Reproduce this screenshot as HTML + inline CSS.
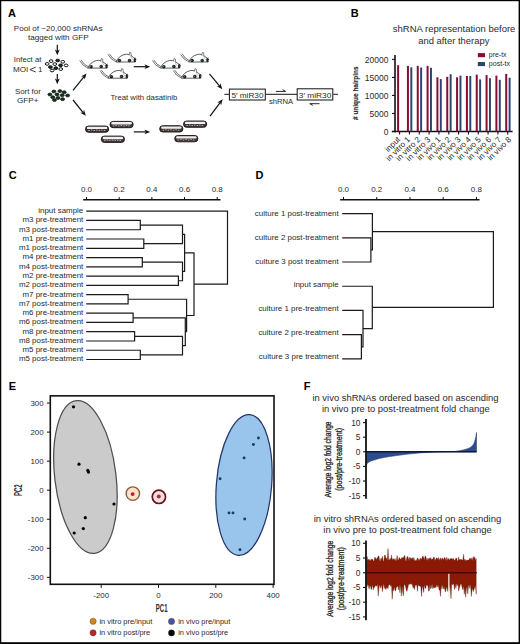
<!DOCTYPE html>
<html><head><meta charset="utf-8"><style>
html,body{margin:0;padding:0;background:#fff;}
svg{display:block;}
text{font-family:"Liberation Sans", sans-serif;}
</style></head><body>
<svg width="520" height="644" viewBox="0 0 520 644">

<rect width="520" height="644" fill="#fff"/>
<rect x="0" y="0" width="520" height="1.2" fill="#000"/>
<rect x="0" y="0" width="1.25" height="644" fill="#000"/>
<rect x="518.6" y="0" width="1.4" height="644" fill="#000"/>
<rect x="0" y="642.2" width="520" height="1.8" fill="#000"/>
<text x="8" y="16.7" font-size="11" text-anchor="start" font-weight="bold" fill="#000" >A</text>
<text x="58.2" y="30.7" font-size="8.1" text-anchor="middle" font-weight="normal" fill="#2a2a2a" textLength="88.7" lengthAdjust="spacingAndGlyphs" >Pool of ~20,000 shRNAs</text>
<text x="58.3" y="39.9" font-size="8.1" text-anchor="middle" font-weight="normal" fill="#2a2a2a" textLength="60.7" lengthAdjust="spacingAndGlyphs" >tagged with GFP</text>
<line x1="57.3" y1="44.8" x2="57.3" y2="51.024" stroke="#111" stroke-width="1.2"/>
<polygon points="57.30,55.20 54.90,49.40 57.30,51.02 59.70,49.40" fill="#111"/>
<text x="27.6" y="62.1" font-size="8" text-anchor="middle" font-weight="normal" fill="#2a2a2a" textLength="27.5" lengthAdjust="spacingAndGlyphs" >Infect at</text>
<text x="13.0" y="71.8" font-size="8" text-anchor="start" font-weight="normal" fill="#2a2a2a" textLength="15.2" lengthAdjust="spacingAndGlyphs" >MOI</text>
<polyline points="35.7,67.2 29.9,69.6 35.7,72.0" fill="none" stroke="#2a2a2a" stroke-width="0.9"/>
<text x="37.9" y="71.8" font-size="8" text-anchor="start" font-weight="normal" fill="#2a2a2a" >1</text>
<line x1="57.3" y1="74.0" x2="57.3" y2="80.024" stroke="#111" stroke-width="1.2"/>
<polygon points="57.30,84.20 54.90,78.40 57.30,80.02 59.70,78.40" fill="#111"/>
<text x="27.9" y="93.5" font-size="8" text-anchor="middle" font-weight="normal" fill="#2a2a2a" textLength="25.8" lengthAdjust="spacingAndGlyphs" >Sort for</text>
<text x="27.75" y="103" font-size="8" text-anchor="middle" font-weight="normal" fill="#2a2a2a" textLength="21.5" lengthAdjust="spacingAndGlyphs" >GFP+</text>
<ellipse cx="51.1" cy="61.1" rx="1.9" ry="1.35" fill="#fff" stroke="#111" stroke-width="1.0"/>
<ellipse cx="57.7" cy="60.5" rx="1.9" ry="1.35" fill="#1c2e22" stroke="#111" stroke-width="1.0"/>
<ellipse cx="62.8" cy="61.8" rx="1.9" ry="1.35" fill="#fff" stroke="#111" stroke-width="1.0"/>
<ellipse cx="47.1" cy="63.9" rx="1.9" ry="1.35" fill="#fff" stroke="#111" stroke-width="1.0"/>
<ellipse cx="54.8" cy="64.1" rx="1.9" ry="1.35" fill="#fff" stroke="#111" stroke-width="1.0"/>
<ellipse cx="60.6" cy="65.3" rx="1.9" ry="1.35" fill="#1c2e22" stroke="#111" stroke-width="1.0"/>
<ellipse cx="66.1" cy="65.4" rx="1.9" ry="1.35" fill="#fff" stroke="#111" stroke-width="1.0"/>
<ellipse cx="50.4" cy="67.1" rx="1.9" ry="1.35" fill="#1c2e22" stroke="#111" stroke-width="1.0"/>
<ellipse cx="55.8" cy="68.2" rx="1.9" ry="1.35" fill="#1c2e22" stroke="#111" stroke-width="1.0"/>
<ellipse cx="60.8" cy="69.1" rx="1.9" ry="1.35" fill="#fff" stroke="#111" stroke-width="1.0"/>
<ellipse cx="52.1" cy="70.5" rx="1.9" ry="1.35" fill="#fff" stroke="#111" stroke-width="1.0"/>
<ellipse cx="53.9" cy="91.5" rx="2.0" ry="1.45" fill="#1c3324" stroke="#0a140c" stroke-width="0.7"/>
<ellipse cx="59.9" cy="91.1" rx="2.0" ry="1.45" fill="#1c3324" stroke="#0a140c" stroke-width="0.7"/>
<ellipse cx="64.2" cy="92.3" rx="2.0" ry="1.45" fill="#1c3324" stroke="#0a140c" stroke-width="0.7"/>
<ellipse cx="49.9" cy="94.5" rx="2.0" ry="1.45" fill="#1c3324" stroke="#0a140c" stroke-width="0.7"/>
<ellipse cx="57" cy="94.5" rx="2.0" ry="1.45" fill="#1c3324" stroke="#0a140c" stroke-width="0.7"/>
<ellipse cx="62.2" cy="95.3" rx="2.0" ry="1.45" fill="#1c3324" stroke="#0a140c" stroke-width="0.7"/>
<ellipse cx="67.6" cy="95.5" rx="2.0" ry="1.45" fill="#1c3324" stroke="#0a140c" stroke-width="0.7"/>
<ellipse cx="52.8" cy="97.3" rx="2.0" ry="1.45" fill="#1c3324" stroke="#0a140c" stroke-width="0.7"/>
<ellipse cx="58" cy="98" rx="2.0" ry="1.45" fill="#1c3324" stroke="#0a140c" stroke-width="0.7"/>
<ellipse cx="62.6" cy="99.2" rx="2.0" ry="1.45" fill="#1c3324" stroke="#0a140c" stroke-width="0.7"/>
<ellipse cx="54.5" cy="100.1" rx="2.0" ry="1.45" fill="#1c3324" stroke="#0a140c" stroke-width="0.7"/>
<line x1="73" y1="90.4" x2="83.88419073167218" y2="76.85522931169683" stroke="#111" stroke-width="1.2"/>
<polygon points="86.50,73.60 84.74,79.62 83.88,76.86 81.00,76.62" fill="#111"/>
<line x1="73" y1="100.0" x2="83.17128680060996" y2="112.55518214450292" stroke="#111" stroke-width="1.2"/>
<polygon points="85.80,115.80 80.28,112.80 83.17,112.56 84.01,109.78" fill="#111"/>
<g transform="translate(79.7,60.5)"><path d="M0,0 Q2.4,5.0 8.2,7.6 M1.4,-0.6 Q3.8,4.2 9.2,6.6" fill="none" stroke="#444" stroke-width="0.75"/>
 <path d="M8.2,7.6 C9.6,3.4 13,0.8 17,0.0 C19.4,-0.4 21.2,0.1 22.5,1.0 C24.5,2.3 26.3,3.5 27.6,4.6 L27.4,7.6 Z" fill="#fff" stroke="#333" stroke-width="0.8"/>
 <path d="M21.0,0.9 L21.7,-2.0 L23.0,-1.5 L23.2,1.6" fill="#fff" stroke="#444" stroke-width="0.65"/>
 <path d="M22.6,2.0 L24.8,5.4" stroke="#888" stroke-width="0.5"/>
 <circle cx="11.4" cy="6.2" r="1.75" fill="#14281a"/>
 <circle cx="21.5" cy="6.0" r="1.75" fill="#14281a"/>
 <circle cx="11.0" cy="5.8" r="0.45" fill="#bcc"/>
 <circle cx="21.1" cy="5.6" r="0.45" fill="#bcc"/>
 <path d="M26.0,4.2 L28.0,3.6 M26.2,5.0 L28.4,5.2 M26.0,5.8 L27.8,7.2" stroke="#111" stroke-width="0.7"/>
 <path d="M25.6,4.4 L27.2,4.3 L27.4,7.6 L25.8,7.6 Z" fill="#222"/></g>
<g transform="translate(108,54.4)"><path d="M0,0 Q2.4,5.0 8.2,7.6 M1.4,-0.6 Q3.8,4.2 9.2,6.6" fill="none" stroke="#444" stroke-width="0.75"/>
 <path d="M8.2,7.6 C9.6,3.4 13,0.8 17,0.0 C19.4,-0.4 21.2,0.1 22.5,1.0 C24.5,2.3 26.3,3.5 27.6,4.6 L27.4,7.6 Z" fill="#fff" stroke="#333" stroke-width="0.8"/>
 <path d="M21.0,0.9 L21.7,-2.0 L23.0,-1.5 L23.2,1.6" fill="#fff" stroke="#444" stroke-width="0.65"/>
 <path d="M22.6,2.0 L24.8,5.4" stroke="#888" stroke-width="0.5"/>
 <circle cx="11.4" cy="6.2" r="1.75" fill="#14281a"/>
 <circle cx="21.5" cy="6.0" r="1.75" fill="#14281a"/>
 <circle cx="11.0" cy="5.8" r="0.45" fill="#bcc"/>
 <circle cx="21.1" cy="5.6" r="0.45" fill="#bcc"/>
 <path d="M26.0,4.2 L28.0,3.6 M26.2,5.0 L28.4,5.2 M26.0,5.8 L27.8,7.2" stroke="#111" stroke-width="0.7"/>
 <path d="M25.6,4.4 L27.2,4.3 L27.4,7.6 L25.8,7.6 Z" fill="#222"/></g>
<g transform="translate(100,70.6)"><path d="M0,0 Q2.4,5.0 8.2,7.6 M1.4,-0.6 Q3.8,4.2 9.2,6.6" fill="none" stroke="#444" stroke-width="0.75"/>
 <path d="M8.2,7.6 C9.6,3.4 13,0.8 17,0.0 C19.4,-0.4 21.2,0.1 22.5,1.0 C24.5,2.3 26.3,3.5 27.6,4.6 L27.4,7.6 Z" fill="#fff" stroke="#333" stroke-width="0.8"/>
 <path d="M21.0,0.9 L21.7,-2.0 L23.0,-1.5 L23.2,1.6" fill="#fff" stroke="#444" stroke-width="0.65"/>
 <path d="M22.6,2.0 L24.8,5.4" stroke="#888" stroke-width="0.5"/>
 <circle cx="11.4" cy="6.2" r="1.75" fill="#14281a"/>
 <circle cx="21.5" cy="6.0" r="1.75" fill="#14281a"/>
 <circle cx="11.0" cy="5.8" r="0.45" fill="#bcc"/>
 <circle cx="21.1" cy="5.6" r="0.45" fill="#bcc"/>
 <path d="M26.0,4.2 L28.0,3.6 M26.2,5.0 L28.4,5.2 M26.0,5.8 L27.8,7.2" stroke="#111" stroke-width="0.7"/>
 <path d="M25.6,4.4 L27.2,4.3 L27.4,7.6 L25.8,7.6 Z" fill="#222"/></g>
<g transform="translate(152.4,60.5)"><path d="M0,0 Q2.4,5.0 8.2,7.6 M1.4,-0.6 Q3.8,4.2 9.2,6.6" fill="none" stroke="#444" stroke-width="0.75"/>
 <path d="M8.2,7.6 C9.6,3.4 13,0.8 17,0.0 C19.4,-0.4 21.2,0.1 22.5,1.0 C24.5,2.3 26.3,3.5 27.6,4.6 L27.4,7.6 Z" fill="#fff" stroke="#333" stroke-width="0.8"/>
 <path d="M21.0,0.9 L21.7,-2.0 L23.0,-1.5 L23.2,1.6" fill="#fff" stroke="#444" stroke-width="0.65"/>
 <path d="M22.6,2.0 L24.8,5.4" stroke="#888" stroke-width="0.5"/>
 <circle cx="11.4" cy="6.2" r="1.75" fill="#14281a"/>
 <circle cx="21.5" cy="6.0" r="1.75" fill="#14281a"/>
 <circle cx="11.0" cy="5.8" r="0.45" fill="#bcc"/>
 <circle cx="21.1" cy="5.6" r="0.45" fill="#bcc"/>
 <path d="M26.0,4.2 L28.0,3.6 M26.2,5.0 L28.4,5.2 M26.0,5.8 L27.8,7.2" stroke="#111" stroke-width="0.7"/>
 <path d="M25.6,4.4 L27.2,4.3 L27.4,7.6 L25.8,7.6 Z" fill="#222"/></g>
<g transform="translate(180.7,54.4)"><path d="M0,0 Q2.4,5.0 8.2,7.6 M1.4,-0.6 Q3.8,4.2 9.2,6.6" fill="none" stroke="#444" stroke-width="0.75"/>
 <path d="M8.2,7.6 C9.6,3.4 13,0.8 17,0.0 C19.4,-0.4 21.2,0.1 22.5,1.0 C24.5,2.3 26.3,3.5 27.6,4.6 L27.4,7.6 Z" fill="#fff" stroke="#333" stroke-width="0.8"/>
 <path d="M21.0,0.9 L21.7,-2.0 L23.0,-1.5 L23.2,1.6" fill="#fff" stroke="#444" stroke-width="0.65"/>
 <path d="M22.6,2.0 L24.8,5.4" stroke="#888" stroke-width="0.5"/>
 <circle cx="11.4" cy="6.2" r="1.75" fill="#14281a"/>
 <circle cx="21.5" cy="6.0" r="1.75" fill="#14281a"/>
 <circle cx="11.0" cy="5.8" r="0.45" fill="#bcc"/>
 <circle cx="21.1" cy="5.6" r="0.45" fill="#bcc"/>
 <path d="M26.0,4.2 L28.0,3.6 M26.2,5.0 L28.4,5.2 M26.0,5.8 L27.8,7.2" stroke="#111" stroke-width="0.7"/>
 <path d="M25.6,4.4 L27.2,4.3 L27.4,7.6 L25.8,7.6 Z" fill="#222"/></g>
<g transform="translate(173.3,70.6)"><path d="M0,0 Q2.4,5.0 8.2,7.6 M1.4,-0.6 Q3.8,4.2 9.2,6.6" fill="none" stroke="#444" stroke-width="0.75"/>
 <path d="M8.2,7.6 C9.6,3.4 13,0.8 17,0.0 C19.4,-0.4 21.2,0.1 22.5,1.0 C24.5,2.3 26.3,3.5 27.6,4.6 L27.4,7.6 Z" fill="#fff" stroke="#333" stroke-width="0.8"/>
 <path d="M21.0,0.9 L21.7,-2.0 L23.0,-1.5 L23.2,1.6" fill="#fff" stroke="#444" stroke-width="0.65"/>
 <path d="M22.6,2.0 L24.8,5.4" stroke="#888" stroke-width="0.5"/>
 <circle cx="11.4" cy="6.2" r="1.75" fill="#14281a"/>
 <circle cx="21.5" cy="6.0" r="1.75" fill="#14281a"/>
 <circle cx="11.0" cy="5.8" r="0.45" fill="#bcc"/>
 <circle cx="21.1" cy="5.6" r="0.45" fill="#bcc"/>
 <path d="M26.0,4.2 L28.0,3.6 M26.2,5.0 L28.4,5.2 M26.0,5.8 L27.8,7.2" stroke="#111" stroke-width="0.7"/>
 <path d="M25.6,4.4 L27.2,4.3 L27.4,7.6 L25.8,7.6 Z" fill="#222"/></g>
<line x1="133.75" y1="66.7" x2="146.024" y2="66.7" stroke="#111" stroke-width="1.2"/>
<polygon points="150.20,66.70 144.40,69.10 146.02,66.70 144.40,64.30" fill="#111"/>
<text x="110.4" y="100" font-size="7.9" text-anchor="start" font-weight="normal" fill="#2a2a2a" textLength="66.9" lengthAdjust="spacingAndGlyphs" >Treat with dasatinib</text>
<g transform="translate(85,125.5)"><rect x="0.5" y="0.5" width="23.2" height="6.3" rx="3.1" fill="#403636" stroke="#1a1414" stroke-width="0.9"/>
 <rect x="1.9" y="1.2" width="20.4" height="2.4" rx="1.2" fill="#f0eeee"/>
 <path d="M3.3,5.0 h1.6 M5.9,4.6 h1.5 M8.5,5.0 h1.5 M11.0,4.6 h1.6 M13.7,5.0 h1.5 M16.2,4.6 h1.5 M18.7,5.0 h1.5" stroke="#d8cccc" stroke-width="0.8"/></g>
<g transform="translate(109.5,120.9)"><rect x="0.5" y="0.5" width="23.2" height="6.3" rx="3.1" fill="#403636" stroke="#1a1414" stroke-width="0.9"/>
 <rect x="1.9" y="1.2" width="20.4" height="2.4" rx="1.2" fill="#f0eeee"/>
 <path d="M3.3,5.0 h1.6 M5.9,4.6 h1.5 M8.5,5.0 h1.5 M11.0,4.6 h1.6 M13.7,5.0 h1.5 M16.2,4.6 h1.5 M18.7,5.0 h1.5" stroke="#d8cccc" stroke-width="0.8"/></g>
<g transform="translate(100.8,135.6)"><rect x="0.5" y="0.5" width="23.2" height="6.3" rx="3.1" fill="#403636" stroke="#1a1414" stroke-width="0.9"/>
 <rect x="1.9" y="1.2" width="20.4" height="2.4" rx="1.2" fill="#f0eeee"/>
 <path d="M3.3,5.0 h1.6 M5.9,4.6 h1.5 M8.5,5.0 h1.5 M11.0,4.6 h1.6 M13.7,5.0 h1.5 M16.2,4.6 h1.5 M18.7,5.0 h1.5" stroke="#d8cccc" stroke-width="0.8"/></g>
<g transform="translate(159.2,125.2)"><rect x="0.5" y="0.5" width="23.2" height="6.3" rx="3.1" fill="#403636" stroke="#1a1414" stroke-width="0.9"/>
 <rect x="1.9" y="1.2" width="20.4" height="2.4" rx="1.2" fill="#f0eeee"/>
 <path d="M3.3,5.0 h1.6 M5.9,4.6 h1.5 M8.5,5.0 h1.5 M11.0,4.6 h1.6 M13.7,5.0 h1.5 M16.2,4.6 h1.5 M18.7,5.0 h1.5" stroke="#d8cccc" stroke-width="0.8"/></g>
<g transform="translate(183,120.5)"><rect x="0.5" y="0.5" width="23.2" height="6.3" rx="3.1" fill="#403636" stroke="#1a1414" stroke-width="0.9"/>
 <rect x="1.9" y="1.2" width="20.4" height="2.4" rx="1.2" fill="#f0eeee"/>
 <path d="M3.3,5.0 h1.6 M5.9,4.6 h1.5 M8.5,5.0 h1.5 M11.0,4.6 h1.6 M13.7,5.0 h1.5 M16.2,4.6 h1.5 M18.7,5.0 h1.5" stroke="#d8cccc" stroke-width="0.8"/></g>
<g transform="translate(174.2,135.0)"><rect x="0.5" y="0.5" width="23.2" height="6.3" rx="3.1" fill="#403636" stroke="#1a1414" stroke-width="0.9"/>
 <rect x="1.9" y="1.2" width="20.4" height="2.4" rx="1.2" fill="#f0eeee"/>
 <path d="M3.3,5.0 h1.6 M5.9,4.6 h1.5 M8.5,5.0 h1.5 M11.0,4.6 h1.6 M13.7,5.0 h1.5 M16.2,4.6 h1.5 M18.7,5.0 h1.5" stroke="#d8cccc" stroke-width="0.8"/></g>
<line x1="133.8" y1="131.9" x2="146.024" y2="131.9" stroke="#111" stroke-width="1.2"/>
<polygon points="150.20,131.90 144.40,134.30 146.02,131.90 144.40,129.50" fill="#111"/>
<line x1="209.5" y1="73.8" x2="219.64091997212017" y2="86.08002027873924" stroke="#111" stroke-width="1.2"/>
<polygon points="222.30,89.30 216.76,86.36 219.64,86.08 220.46,83.30" fill="#111"/>
<line x1="210.0" y1="116.2" x2="220.11338592155326" y2="102.55495550266625" stroke="#111" stroke-width="1.2"/>
<polygon points="222.60,99.20 221.07,105.29 220.11,102.55 217.22,102.43" fill="#111"/>
<line x1="224.4" y1="94.3" x2="229" y2="94.3" stroke="#111" stroke-width="1"/>
<rect x="229.4" y="89.1" width="35.9" height="10.9" fill="#fff" stroke="#111" stroke-width="1"/>
<text x="247.45" y="97.6" font-size="8" text-anchor="middle" font-weight="normal" fill="#2a2a2a" textLength="32.1" lengthAdjust="spacingAndGlyphs" >5′ miR30</text>
<line x1="265.8" y1="94.3" x2="297" y2="94.3" stroke="#111" stroke-width="1"/>
<rect x="297.2" y="88.8" width="35.6" height="11.2" fill="#fff" stroke="#111" stroke-width="1"/>
<text x="315.05" y="97.6" font-size="8" text-anchor="middle" font-weight="normal" fill="#2a2a2a" textLength="32.5" lengthAdjust="spacingAndGlyphs" >3′ miR30</text>
<line x1="333.3" y1="94.3" x2="337.9" y2="94.3" stroke="#111" stroke-width="1"/>
<path d="M275.9,91.4 H285.6 L282.6,89.7" fill="none" stroke="#111" stroke-width="0.9"/>
<path d="M319.5,103.7 H309.8 L312.8,105.4" fill="none" stroke="#111" stroke-width="0.9"/>
<text x="281.1" y="103.5" font-size="7.6" text-anchor="middle" font-weight="normal" fill="#2a2a2a" textLength="24.2" lengthAdjust="spacingAndGlyphs" >shRNA</text>
<text x="350.7" y="17" font-size="11" text-anchor="start" font-weight="bold" fill="#000" >B</text>
<text x="454.1" y="31.5" font-size="9.45" text-anchor="middle" font-weight="normal" fill="#2a2a2a" textLength="122.6" lengthAdjust="spacingAndGlyphs" >shRNA representation before</text>
<text x="453.8" y="43.6" font-size="9.45" text-anchor="middle" font-weight="normal" fill="#2a2a2a" textLength="71.2" lengthAdjust="spacingAndGlyphs" >and after therapy</text>
<line x1="395.0" y1="54.9" x2="395.0" y2="132.2" stroke="#111" stroke-width="1.6"/>
<line x1="391.8" y1="131.5" x2="512.6" y2="131.5" stroke="#111" stroke-width="1.5"/>
<line x1="392.0" y1="131.5" x2="395.0" y2="131.5" stroke="#111" stroke-width="1.1"/>
<text x="388.5" y="134.8" font-size="8.5" text-anchor="end" font-weight="normal" fill="#2a2a2a" >0</text>
<line x1="392.0" y1="113.475" x2="395.0" y2="113.475" stroke="#111" stroke-width="1.1"/>
<text x="388.5" y="116.77499999999999" font-size="8.5" text-anchor="end" font-weight="normal" fill="#2a2a2a" >5000</text>
<line x1="392.0" y1="95.45" x2="395.0" y2="95.45" stroke="#111" stroke-width="1.1"/>
<text x="388.5" y="98.75" font-size="8.5" text-anchor="end" font-weight="normal" fill="#2a2a2a" >10000</text>
<line x1="392.0" y1="77.42500000000001" x2="395.0" y2="77.42500000000001" stroke="#111" stroke-width="1.1"/>
<text x="388.5" y="80.72500000000001" font-size="8.5" text-anchor="end" font-weight="normal" fill="#2a2a2a" >15000</text>
<line x1="392.0" y1="59.400000000000006" x2="395.0" y2="59.400000000000006" stroke="#111" stroke-width="1.1"/>
<text x="388.5" y="62.7" font-size="8.5" text-anchor="end" font-weight="normal" fill="#2a2a2a" >20000</text>
<text transform="translate(358.0,93.2) rotate(-90)" font-size="7.6" font-weight="bold" text-anchor="middle" fill="#2a2a2a" textLength="53.6" lengthAdjust="spacingAndGlyphs" stroke="#2a2a2a" stroke-width="0.15">&#35; unique hairpins</text>
<rect x="397.10" y="65.2" width="2.0" height="66.30" fill="#8a0c30"/>
<line x1="399.6" y1="131.5" x2="399.6" y2="134.5" stroke="#111" stroke-width="1.1"/>
<text transform="translate(400.70,140.0) rotate(-45)" font-size="8.1" text-anchor="end" fill="#2a2a2a">input</text>
<rect x="406.93" y="65.9" width="2.0" height="65.60" fill="#8a0c30"/>
<rect x="410.33" y="67.3" width="1.95" height="64.20" fill="#2c4270"/>
<line x1="409.43" y1="131.5" x2="409.43" y2="134.5" stroke="#111" stroke-width="1.1"/>
<text transform="translate(410.80,140.0) rotate(-45)" font-size="8.1" text-anchor="end" fill="#2a2a2a">in vitro 1</text>
<rect x="416.76" y="65.9" width="2.0" height="65.60" fill="#8a0c30"/>
<rect x="420.16" y="67.5" width="1.95" height="64.00" fill="#2c4270"/>
<line x1="419.26000000000005" y1="131.5" x2="419.26000000000005" y2="134.5" stroke="#111" stroke-width="1.1"/>
<text transform="translate(420.90,140.0) rotate(-45)" font-size="8.1" text-anchor="end" fill="#2a2a2a">in vitro 2</text>
<rect x="426.59" y="65.9" width="2.0" height="65.60" fill="#8a0c30"/>
<rect x="429.99" y="67.8" width="1.95" height="63.70" fill="#2c4270"/>
<line x1="429.09000000000003" y1="131.5" x2="429.09000000000003" y2="134.5" stroke="#111" stroke-width="1.1"/>
<text transform="translate(431.00,140.0) rotate(-45)" font-size="8.1" text-anchor="end" fill="#2a2a2a">in vitro 3</text>
<rect x="436.42" y="77.3" width="2.0" height="54.20" fill="#8a0c30"/>
<rect x="439.82" y="79.1" width="1.95" height="52.40" fill="#2c4270"/>
<line x1="438.92" y1="131.5" x2="438.92" y2="134.5" stroke="#111" stroke-width="1.1"/>
<text transform="translate(441.10,140.0) rotate(-45)" font-size="8.1" text-anchor="end" fill="#2a2a2a">in vivo 1</text>
<rect x="446.25" y="76.8" width="2.0" height="54.70" fill="#8a0c30"/>
<rect x="449.65" y="74.2" width="1.95" height="57.30" fill="#2c4270"/>
<line x1="448.75" y1="131.5" x2="448.75" y2="134.5" stroke="#111" stroke-width="1.1"/>
<text transform="translate(451.20,140.0) rotate(-45)" font-size="8.1" text-anchor="end" fill="#2a2a2a">in vivo 2</text>
<rect x="456.08" y="77.3" width="2.0" height="54.20" fill="#8a0c30"/>
<rect x="459.48" y="75.6" width="1.95" height="55.90" fill="#2c4270"/>
<line x1="458.58000000000004" y1="131.5" x2="458.58000000000004" y2="134.5" stroke="#111" stroke-width="1.1"/>
<text transform="translate(461.30,140.0) rotate(-45)" font-size="8.1" text-anchor="end" fill="#2a2a2a">in vivo 3</text>
<rect x="465.91" y="76.0" width="2.0" height="55.50" fill="#8a0c30"/>
<rect x="469.31" y="76.0" width="1.95" height="55.50" fill="#2c4270"/>
<line x1="468.41" y1="131.5" x2="468.41" y2="134.5" stroke="#111" stroke-width="1.1"/>
<text transform="translate(471.40,140.0) rotate(-45)" font-size="8.1" text-anchor="end" fill="#2a2a2a">in vivo 4</text>
<rect x="475.74" y="74.6" width="2.0" height="56.90" fill="#8a0c30"/>
<rect x="479.14" y="79.4" width="1.95" height="52.10" fill="#2c4270"/>
<line x1="478.24" y1="131.5" x2="478.24" y2="134.5" stroke="#111" stroke-width="1.1"/>
<text transform="translate(481.50,140.0) rotate(-45)" font-size="8.1" text-anchor="end" fill="#2a2a2a">in vivo 5</text>
<rect x="485.57" y="75.1" width="2.0" height="56.40" fill="#8a0c30"/>
<rect x="488.97" y="78.2" width="1.95" height="53.30" fill="#2c4270"/>
<line x1="488.07000000000005" y1="131.5" x2="488.07000000000005" y2="134.5" stroke="#111" stroke-width="1.1"/>
<text transform="translate(491.60,140.0) rotate(-45)" font-size="8.1" text-anchor="end" fill="#2a2a2a">in vivo 6</text>
<rect x="495.40" y="75.6" width="2.0" height="55.90" fill="#8a0c30"/>
<rect x="498.80" y="79.8" width="1.95" height="51.70" fill="#2c4270"/>
<line x1="497.90000000000003" y1="131.5" x2="497.90000000000003" y2="134.5" stroke="#111" stroke-width="1.1"/>
<text transform="translate(501.70,140.0) rotate(-45)" font-size="8.1" text-anchor="end" fill="#2a2a2a">in vivo 7</text>
<rect x="505.23" y="73.9" width="2.0" height="57.60" fill="#8a0c30"/>
<rect x="508.63" y="77.7" width="1.95" height="53.80" fill="#2c4270"/>
<line x1="507.73" y1="131.5" x2="507.73" y2="134.5" stroke="#111" stroke-width="1.1"/>
<text transform="translate(511.80,140.0) rotate(-45)" font-size="8.1" text-anchor="end" fill="#2a2a2a">in vivo 8</text>
<rect x="477.8" y="53.1" width="7.2" height="4.1" fill="#8a0c30"/>
<rect x="477.8" y="62.0" width="7.2" height="4.1" fill="#2c4270"/>
<text x="488.8" y="56.8" font-size="7" text-anchor="start" font-weight="normal" fill="#2a2a2a" textLength="17.8" lengthAdjust="spacingAndGlyphs" >pre-tx</text>
<text x="488.8" y="65.8" font-size="7" text-anchor="start" font-weight="normal" fill="#2a2a2a" textLength="21.2" lengthAdjust="spacingAndGlyphs" >post-tx</text>
<text x="8.7" y="178.7" font-size="11" text-anchor="start" font-weight="bold" fill="#000" >C</text>
<line x1="83.2" y1="199.8" x2="220.5" y2="199.8" stroke="#111" stroke-width="1.4"/>
<line x1="86.5" y1="197.0" x2="86.5" y2="199.8" stroke="#111" stroke-width="1.0"/>
<text x="86.5" y="191.5" font-size="8" text-anchor="middle" font-weight="normal" fill="#2a2a2a" >0.0</text>
<line x1="119.18" y1="197.0" x2="119.18" y2="199.8" stroke="#111" stroke-width="1.0"/>
<text x="119.18" y="191.5" font-size="8" text-anchor="middle" font-weight="normal" fill="#2a2a2a" >0.2</text>
<line x1="151.86" y1="197.0" x2="151.86" y2="199.8" stroke="#111" stroke-width="1.0"/>
<text x="151.86" y="191.5" font-size="8" text-anchor="middle" font-weight="normal" fill="#2a2a2a" >0.4</text>
<line x1="184.54" y1="197.0" x2="184.54" y2="199.8" stroke="#111" stroke-width="1.0"/>
<text x="184.54" y="191.5" font-size="8" text-anchor="middle" font-weight="normal" fill="#2a2a2a" >0.6</text>
<line x1="217.22" y1="197.0" x2="217.22" y2="199.8" stroke="#111" stroke-width="1.0"/>
<text x="217.22" y="191.5" font-size="8" text-anchor="middle" font-weight="normal" fill="#2a2a2a" >0.8</text>
<text x="83.3" y="213.1" font-size="7.95" text-anchor="end" font-weight="normal" fill="#2a2a2a" >input sample</text>
<text x="83.3" y="222.37" font-size="7.95" text-anchor="end" font-weight="normal" fill="#2a2a2a" >m3 pre-treatment</text>
<text x="83.3" y="231.64" font-size="7.95" text-anchor="end" font-weight="normal" fill="#2a2a2a" >m3 post-treatment</text>
<text x="83.3" y="240.91" font-size="7.95" text-anchor="end" font-weight="normal" fill="#2a2a2a" >m1 pre-treatment</text>
<text x="83.3" y="250.17999999999998" font-size="7.95" text-anchor="end" font-weight="normal" fill="#2a2a2a" >m1 post-treatment</text>
<text x="83.3" y="259.44999999999993" font-size="7.95" text-anchor="end" font-weight="normal" fill="#2a2a2a" >m4 pre-treatment</text>
<text x="83.3" y="268.71999999999997" font-size="7.95" text-anchor="end" font-weight="normal" fill="#2a2a2a" >m4 post-treatment</text>
<text x="83.3" y="277.98999999999995" font-size="7.95" text-anchor="end" font-weight="normal" fill="#2a2a2a" >m2 pre-treatment</text>
<text x="83.3" y="287.26" font-size="7.95" text-anchor="end" font-weight="normal" fill="#2a2a2a" >m2 post-treatment</text>
<text x="83.3" y="296.53" font-size="7.95" text-anchor="end" font-weight="normal" fill="#2a2a2a" >m7 pre-treatment</text>
<text x="83.3" y="305.79999999999995" font-size="7.95" text-anchor="end" font-weight="normal" fill="#2a2a2a" >m7 post-treatment</text>
<text x="83.3" y="315.06999999999994" font-size="7.95" text-anchor="end" font-weight="normal" fill="#2a2a2a" >m6 pre-treatment</text>
<text x="83.3" y="324.34" font-size="7.95" text-anchor="end" font-weight="normal" fill="#2a2a2a" >m6 post-treatment</text>
<text x="83.3" y="333.60999999999996" font-size="7.95" text-anchor="end" font-weight="normal" fill="#2a2a2a" >m8 pre-treatment</text>
<text x="83.3" y="342.88" font-size="7.95" text-anchor="end" font-weight="normal" fill="#2a2a2a" >m8 post-treatment</text>
<text x="83.3" y="352.15" font-size="7.95" text-anchor="end" font-weight="normal" fill="#2a2a2a" >m5 pre-treatment</text>
<text x="83.3" y="361.41999999999996" font-size="7.95" text-anchor="end" font-weight="normal" fill="#2a2a2a" >m5 post-treatment</text>
<path d="M86.20,220.47 H140.30 V229.74 H86.20" fill="none" stroke="#1a1a1a" stroke-width="1.2"/>
<path d="M86.20,239.01 H143.80 V248.28 H86.20" fill="none" stroke="#1a1a1a" stroke-width="1.2"/>
<path d="M140.30,225.10 H182.50 V243.64 H143.80" fill="none" stroke="#1a1a1a" stroke-width="1.2"/>
<path d="M86.20,257.55 H142.30 V266.82 H86.20" fill="none" stroke="#1a1a1a" stroke-width="1.2"/>
<path d="M86.20,276.09 H178.40 V285.36 H86.20" fill="none" stroke="#1a1a1a" stroke-width="1.2"/>
<path d="M142.30,262.18 H182.50 V280.73 H178.40" fill="none" stroke="#1a1a1a" stroke-width="1.2"/>
<path d="M182.50,234.38 H184.60 V271.45 H182.50" fill="none" stroke="#1a1a1a" stroke-width="1.2"/>
<path d="M86.20,294.63 H128.10 V303.90 H86.20" fill="none" stroke="#1a1a1a" stroke-width="1.2"/>
<path d="M86.20,313.17 H133.10 V322.44 H86.20" fill="none" stroke="#1a1a1a" stroke-width="1.2"/>
<path d="M86.20,331.71 H134.60 V340.98 H86.20" fill="none" stroke="#1a1a1a" stroke-width="1.2"/>
<path d="M86.20,350.25 H140.30 V359.52 H86.20" fill="none" stroke="#1a1a1a" stroke-width="1.2"/>
<path d="M134.60,336.35 H182.50 V354.88 H140.30" fill="none" stroke="#1a1a1a" stroke-width="1.2"/>
<path d="M133.10,317.80 H185.30 V345.62 H182.50" fill="none" stroke="#1a1a1a" stroke-width="1.2"/>
<path d="M128.10,299.26 H186.60 V331.71 H185.30" fill="none" stroke="#1a1a1a" stroke-width="1.2"/>
<path d="M184.60,252.91 H194.00 V315.49 H186.60" fill="none" stroke="#1a1a1a" stroke-width="1.2"/>
<path d="M86.20,211.20 H227.50 V284.20 H194.00" fill="none" stroke="#1a1a1a" stroke-width="1.2"/>
<text x="255.4" y="178.8" font-size="11" text-anchor="start" font-weight="bold" fill="#000" >D</text>
<line x1="340.2" y1="199.8" x2="479.5" y2="199.8" stroke="#111" stroke-width="1.4"/>
<line x1="343.5" y1="197.0" x2="343.5" y2="199.8" stroke="#111" stroke-width="1.0"/>
<text x="343.5" y="191.5" font-size="8" text-anchor="middle" font-weight="normal" fill="#2a2a2a" >0.0</text>
<line x1="376.73" y1="197.0" x2="376.73" y2="199.8" stroke="#111" stroke-width="1.0"/>
<text x="376.73" y="191.5" font-size="8" text-anchor="middle" font-weight="normal" fill="#2a2a2a" >0.2</text>
<line x1="409.96" y1="197.0" x2="409.96" y2="199.8" stroke="#111" stroke-width="1.0"/>
<text x="409.96" y="191.5" font-size="8" text-anchor="middle" font-weight="normal" fill="#2a2a2a" >0.4</text>
<line x1="443.19" y1="197.0" x2="443.19" y2="199.8" stroke="#111" stroke-width="1.0"/>
<text x="443.19" y="191.5" font-size="8" text-anchor="middle" font-weight="normal" fill="#2a2a2a" >0.6</text>
<line x1="476.41999999999996" y1="197.0" x2="476.41999999999996" y2="199.8" stroke="#111" stroke-width="1.0"/>
<text x="476.41999999999996" y="191.5" font-size="8" text-anchor="middle" font-weight="normal" fill="#2a2a2a" >0.8</text>
<text x="338.7" y="216.0" font-size="7.95" text-anchor="end" font-weight="normal" fill="#2a2a2a" >culture 1 post-treatment</text>
<text x="338.7" y="239.8" font-size="7.95" text-anchor="end" font-weight="normal" fill="#2a2a2a" >culture 2 post-treatment</text>
<text x="338.7" y="263.6" font-size="7.95" text-anchor="end" font-weight="normal" fill="#2a2a2a" >culture 3 post treatment</text>
<text x="338.7" y="287.4" font-size="7.95" text-anchor="end" font-weight="normal" fill="#2a2a2a" >input sample</text>
<text x="338.7" y="311.2" font-size="7.95" text-anchor="end" font-weight="normal" fill="#2a2a2a" >culture 1 pre-treatment</text>
<text x="338.7" y="335.0" font-size="7.95" text-anchor="end" font-weight="normal" fill="#2a2a2a" >culture 2 pre-treatment</text>
<text x="338.7" y="358.8" font-size="7.95" text-anchor="end" font-weight="normal" fill="#2a2a2a" >culture 3 pre treatment</text>
<path d="M342.20,237.78 H370.90 V262.01 H342.20" fill="none" stroke="#1a1a1a" stroke-width="1.2"/>
<path d="M342.20,213.55 H372.40 V249.89 H370.90" fill="none" stroke="#1a1a1a" stroke-width="1.2"/>
<path d="M342.20,334.70 H361.40 V358.93 H342.20" fill="none" stroke="#1a1a1a" stroke-width="1.2"/>
<path d="M342.20,310.47 H363.00 V346.82 H361.40" fill="none" stroke="#1a1a1a" stroke-width="1.2"/>
<path d="M342.20,286.24 H372.30 V328.64 H363.00" fill="none" stroke="#1a1a1a" stroke-width="1.2"/>
<path d="M372.40,231.72 H493.40 V307.44 H372.30" fill="none" stroke="#1a1a1a" stroke-width="1.2"/>
<text x="8.7" y="389.6" font-size="11" text-anchor="start" font-weight="bold" fill="#000" >E</text>
<ellipse cx="85.4" cy="477" rx="30.6" ry="76.9" transform="rotate(-6.84 85.4 477)" fill="#cbcbcb" stroke="#505050" stroke-width="1.25"/>
<ellipse cx="244" cy="485" rx="27.6" ry="70.6" transform="rotate(4.7 244 485)" fill="#99c4ec" stroke="#26366a" stroke-width="1.25"/>
<circle cx="73.5" cy="406.8" r="1.6" fill="#000"/>
<circle cx="79.0" cy="464.2" r="1.6" fill="#000"/>
<circle cx="87.8" cy="470.4" r="1.6" fill="#000"/>
<circle cx="88.5" cy="472.1" r="1.6" fill="#000"/>
<circle cx="114" cy="504" r="1.6" fill="#000"/>
<circle cx="85.3" cy="517.7" r="1.6" fill="#000"/>
<circle cx="83.3" cy="528.6" r="1.6" fill="#000"/>
<circle cx="74.2" cy="533" r="1.6" fill="#000"/>
<circle cx="258.4" cy="438" r="1.45" fill="#1a3a6c"/>
<circle cx="253.4" cy="444.5" r="1.45" fill="#1a3a6c"/>
<circle cx="244.1" cy="457.9" r="1.45" fill="#1a3a6c"/>
<circle cx="220.1" cy="478.8" r="1.45" fill="#1a3a6c"/>
<circle cx="229" cy="512.9" r="1.45" fill="#1a3a6c"/>
<circle cx="233" cy="512.9" r="1.45" fill="#1a3a6c"/>
<circle cx="244.7" cy="519" r="1.45" fill="#1a3a6c"/>
<circle cx="240" cy="549.8" r="1.45" fill="#1a3a6c"/>
<circle cx="132.85" cy="493.6" r="6.75" fill="#fbe3c8" stroke="#8a5a3a" stroke-width="1.4"/>
<circle cx="132.65" cy="494.1" r="1.9" fill="#c01830"/>
<circle cx="158.9" cy="496.85" r="6.65" fill="#f8dcdc" stroke="#6a1020" stroke-width="1.7"/>
<circle cx="158.8" cy="496.4" r="2.0" fill="#8a3a40"/>
<rect x="50.3" y="395.85" width="223.7" height="188.45" fill="none" stroke="#111" stroke-width="1.6"/>
<line x1="46.9" y1="577.35" x2="50" y2="577.35" stroke="#111" stroke-width="1.0"/>
<text x="43.6" y="580.15" font-size="7.9" text-anchor="end" font-weight="normal" fill="#2a2a2a" >-300</text>
<line x1="46.9" y1="548.3" x2="50" y2="548.3" stroke="#111" stroke-width="1.0"/>
<text x="43.6" y="551.0999999999999" font-size="7.9" text-anchor="end" font-weight="normal" fill="#2a2a2a" >-200</text>
<line x1="46.9" y1="519.25" x2="50" y2="519.25" stroke="#111" stroke-width="1.0"/>
<text x="43.6" y="522.05" font-size="7.9" text-anchor="end" font-weight="normal" fill="#2a2a2a" >-100</text>
<line x1="46.9" y1="490.2" x2="50" y2="490.2" stroke="#111" stroke-width="1.0"/>
<text x="43.6" y="493.0" font-size="7.9" text-anchor="end" font-weight="normal" fill="#2a2a2a" >0</text>
<line x1="46.9" y1="461.15" x2="50" y2="461.15" stroke="#111" stroke-width="1.0"/>
<text x="43.6" y="463.95" font-size="7.9" text-anchor="end" font-weight="normal" fill="#2a2a2a" >100</text>
<line x1="46.9" y1="432.09999999999997" x2="50" y2="432.09999999999997" stroke="#111" stroke-width="1.0"/>
<text x="43.6" y="434.9" font-size="7.9" text-anchor="end" font-weight="normal" fill="#2a2a2a" >200</text>
<line x1="46.9" y1="403.04999999999995" x2="50" y2="403.04999999999995" stroke="#111" stroke-width="1.0"/>
<text x="43.6" y="405.84999999999997" font-size="7.9" text-anchor="end" font-weight="normal" fill="#2a2a2a" >300</text>
<line x1="101.2" y1="584.6" x2="101.2" y2="587.9" stroke="#111" stroke-width="1.0"/>
<text x="101.2" y="597.7" font-size="7.9" text-anchor="middle" font-weight="normal" fill="#2a2a2a" >-200</text>
<line x1="158.5" y1="584.6" x2="158.5" y2="587.9" stroke="#111" stroke-width="1.0"/>
<text x="158.5" y="597.7" font-size="7.9" text-anchor="middle" font-weight="normal" fill="#2a2a2a" >0</text>
<line x1="215.8" y1="584.6" x2="215.8" y2="587.9" stroke="#111" stroke-width="1.0"/>
<text x="215.8" y="597.7" font-size="7.9" text-anchor="middle" font-weight="normal" fill="#2a2a2a" >200</text>
<line x1="273.1" y1="584.6" x2="273.1" y2="587.9" stroke="#111" stroke-width="1.0"/>
<text x="273.1" y="597.7" font-size="7.9" text-anchor="middle" font-weight="normal" fill="#2a2a2a" >400</text>
<text transform="translate(161.65,611.5)" font-size="10.4" font-weight="bold" text-anchor="middle" fill="#2a2a2a" textLength="11.6" lengthAdjust="spacingAndGlyphs">PC1</text>
<text transform="translate(21.7,490.15) rotate(-90)" font-size="10" font-weight="bold" text-anchor="middle" fill="#2a2a2a" textLength="11.7" lengthAdjust="spacingAndGlyphs">PC2</text>
<circle cx="93.1" cy="621.3" r="3.15" fill="#d4841e" stroke="#333" stroke-width="0.35"/>
<text x="99.4" y="623.8" font-size="7.45" text-anchor="start" font-weight="normal" fill="#2a2a2a" >in vitro pre/input</text>
<circle cx="93.1" cy="632.8" r="3.15" fill="#c02028" stroke="#333" stroke-width="0.35"/>
<text x="99.4" y="635.3" font-size="7.45" text-anchor="start" font-weight="normal" fill="#2a2a2a" >in vitro post/pre</text>
<circle cx="171.5" cy="621.4" r="3.15" fill="#4a52a2" stroke="#333" stroke-width="0.35"/>
<text x="178.2" y="623.9" font-size="7.45" text-anchor="start" font-weight="normal" fill="#2a2a2a" >in vivo pre/input</text>
<circle cx="171.5" cy="632.9" r="3.15" fill="#080808" stroke="#333" stroke-width="0.35"/>
<text x="178.2" y="635.4" font-size="7.45" text-anchor="start" font-weight="normal" fill="#2a2a2a" >in vivo post/pre</text>
<text x="303.7" y="390" font-size="11" text-anchor="start" font-weight="bold" fill="#000" >F</text>
<text x="405.45" y="400.5" font-size="9.43" text-anchor="middle" font-weight="normal" fill="#2a2a2a" textLength="186.1" lengthAdjust="spacingAndGlyphs" >in vivo shRNAs ordered based on ascending</text>
<text x="405.85" y="412.0" font-size="9.43" text-anchor="middle" font-weight="normal" fill="#2a2a2a" textLength="167.9" lengthAdjust="spacingAndGlyphs" >in vivo pre to post-treatment fold change</text>
<text x="407.45" y="521.6" font-size="9.45" text-anchor="middle" font-weight="normal" fill="#2a2a2a" textLength="187.5" lengthAdjust="spacingAndGlyphs" >in vitro shRNAs ordered based on ascending</text>
<text x="407.55" y="532.6" font-size="9.45" text-anchor="middle" font-weight="normal" fill="#2a2a2a" textLength="168.5" lengthAdjust="spacingAndGlyphs" >in vivo pre to post-treatment fold change</text>
<path d="M366.4,451.8 L366.4,465.5 L367.2,463.6 L368.9,461.9 L371,460.9 L373.5,460.2 L379,458.6 L385,457.3 L396.6,455.6 L408.1,454.1 L419.7,452.9 L430,452.3 L440,451.8 L454.6,451.4 L461,450.5 L466.1,449.2 L469.5,447.9 L471.9,446.3 L473.6,444.2 L474.8,441.1 L475.8,437 L476.5,432.5 L476.5,451.8 Z" fill="#2d4c8e" stroke="#1c2f5c" stroke-width="0.5"/>
<line x1="366" y1="451.8" x2="476.6" y2="451.8" stroke="#0f1a38" stroke-width="1.6"/>
<line x1="366.0" y1="419.1" x2="366.0" y2="498.8" stroke="#111" stroke-width="1.8"/>
<line x1="363.0" y1="422.6" x2="366.0" y2="422.6" stroke="#111" stroke-width="1.1"/>
<text x="360.4" y="425.5" font-size="8.3" text-anchor="end" font-weight="normal" fill="#2a2a2a" >10</text>
<line x1="363.0" y1="437.2" x2="366.0" y2="437.2" stroke="#111" stroke-width="1.1"/>
<text x="360.4" y="440.09999999999997" font-size="8.3" text-anchor="end" font-weight="normal" fill="#2a2a2a" >5</text>
<line x1="363.0" y1="451.8" x2="366.0" y2="451.8" stroke="#111" stroke-width="1.1"/>
<text x="360.4" y="454.7" font-size="8.3" text-anchor="end" font-weight="normal" fill="#2a2a2a" >0</text>
<line x1="363.0" y1="466.40000000000003" x2="366.0" y2="466.40000000000003" stroke="#111" stroke-width="1.1"/>
<text x="360.4" y="469.3" font-size="8.3" text-anchor="end" font-weight="normal" fill="#2a2a2a" >-5</text>
<line x1="363.0" y1="481.0" x2="366.0" y2="481.0" stroke="#111" stroke-width="1.1"/>
<text x="360.4" y="483.9" font-size="8.3" text-anchor="end" font-weight="normal" fill="#2a2a2a" >-10</text>
<line x1="363.0" y1="495.6" x2="366.0" y2="495.6" stroke="#111" stroke-width="1.1"/>
<text x="360.4" y="498.5" font-size="8.3" text-anchor="end" font-weight="normal" fill="#2a2a2a" >-15</text>
<text transform="translate(331.30,459.4) rotate(-90)" font-size="8.2" text-anchor="middle" fill="#2a2a2a" textLength="76.0" lengthAdjust="spacingAndGlyphs" stroke="#222" stroke-width="0.3">Average log2 fold change</text>
<text transform="translate(341.80,459.4) rotate(-90)" font-size="8.2" text-anchor="middle" fill="#2a2a2a" textLength="62.9" lengthAdjust="spacingAndGlyphs" stroke="#222" stroke-width="0.3">(post/pre-treatment)</text>
<path d="M366.30,560.5 L367.00,556.3 L367.70,560.2 L368.40,559.9 L369.10,558.9 L369.80,560.8 L370.50,560.5 L371.20,558.9 L371.90,560.0 L372.60,559.1 L373.30,561.1 L374.00,560.9 L374.70,557.4 L375.40,557.5 L376.10,559.6 L376.80,558.7 L377.50,557.4 L378.20,556.3 L378.90,555.9 L379.60,560.5 L380.30,561.2 L381.00,558.1 L381.70,559.8 L382.40,556.3 L383.10,561.0 L383.80,561.2 L384.50,555.3 L385.20,555.0 L385.90,557.9 L386.60,558.3 L387.30,560.8 L388.00,548.6 L388.70,560.1 L389.40,560.3 L390.10,558.3 L390.80,560.1 L391.50,554.9 L392.20,560.6 L392.90,558.6 L393.60,559.0 L394.30,560.3 L395.00,558.4 L395.70,560.7 L396.40,560.8 L397.10,555.4 L397.80,560.0 L398.50,560.2 L399.20,557.4 L399.90,558.2 L400.60,559.6 L401.30,559.0 L402.00,557.3 L402.70,557.9 L403.40,557.8 L404.10,556.4 L404.80,555.2 L405.50,560.4 L406.20,561.0 L406.90,557.3 L407.60,556.3 L408.30,558.0 L409.00,561.1 L409.70,557.1 L410.40,557.9 L411.10,559.4 L411.80,557.9 L412.50,557.8 L413.20,560.2 L413.90,557.4 L414.60,561.0 L415.30,560.3 L416.00,561.1 L416.70,560.0 L417.40,557.8 L418.10,558.7 L418.80,560.4 L419.50,560.3 L420.20,557.9 L420.90,559.0 L421.60,559.5 L422.30,556.8 L423.00,556.1 L423.70,557.8 L424.40,560.4 L425.10,555.7 L425.80,556.8 L426.50,558.9 L427.20,561.0 L427.90,558.1 L428.60,559.7 L429.30,558.1 L430.00,559.6 L430.70,557.4 L431.40,559.9 L432.10,558.8 L432.80,559.5 L433.50,557.3 L434.20,556.9 L434.90,560.8 L435.60,559.6 L436.30,558.0 L437.00,558.0 L437.70,559.5 L438.40,557.4 L439.10,560.8 L439.80,558.9 L440.50,557.7 L441.20,560.7 L441.90,558.3 L442.60,558.2 L443.30,559.6 L444.00,558.8 L444.70,557.3 L445.40,558.4 L446.10,561.2 L446.80,557.3 L447.50,560.8 L448.20,558.2 L448.90,559.4 L449.60,559.9 L450.30,558.4 L451.00,559.3 L451.70,558.3 L452.40,559.8 L453.10,558.3 L453.80,559.2 L454.50,560.4 L455.20,559.9 L455.90,558.1 L456.60,558.1 L457.30,560.7 L458.00,561.1 L458.70,556.9 L459.40,560.6 L460.10,559.1 L460.80,560.1 L461.50,559.4 L462.20,560.3 L462.90,559.8 L463.60,554.3 L464.30,561.1 L465.00,559.2 L465.70,560.7 L466.40,560.2 L467.10,560.3 L467.80,560.1 L468.50,560.1 L469.20,559.6 L469.90,557.9 L470.60,558.7 L471.30,560.0 L472.00,557.6 L472.70,561.2 L473.40,556.6 L474.10,558.9 L474.80,556.8 L475.50,561.2 L476.20,558.6 L476.20,594.3 L475.50,585.5 L474.80,587.3 L474.10,589.1 L473.40,591.6 L472.70,588.3 L472.00,590.5 L471.30,596.4 L470.60,583.8 L469.90,588.6 L469.20,585.1 L468.50,585.6 L467.80,594.1 L467.10,586.0 L466.40,589.3 L465.70,597.2 L465.00,587.2 L464.30,594.3 L463.60,585.5 L462.90,589.8 L462.20,587.7 L461.50,584.6 L460.80,583.7 L460.10,585.6 L459.40,587.9 L458.70,591.1 L458.00,583.3 L457.30,585.7 L456.60,583.1 L455.90,588.3 L455.20,583.8 L454.50,589.7 L453.80,584.3 L453.10,583.6 L452.40,585.1 L451.70,583.6 L451.00,598.8 L450.30,589.3 L449.60,584.4 L448.90,591.1 L448.20,583.9 L447.50,591.4 L446.80,586.4 L446.10,589.1 L445.40,592.1 L444.70,589.1 L444.00,586.5 L443.30,589.1 L442.60,583.9 L441.90,589.1 L441.20,584.2 L440.50,596.4 L439.80,589.9 L439.10,589.9 L438.40,585.8 L437.70,585.2 L437.00,587.5 L436.30,584.1 L435.60,587.7 L434.90,586.8 L434.20,588.1 L433.50,586.7 L432.80,588.8 L432.10,583.5 L431.40,587.5 L430.70,589.0 L430.00,584.1 L429.30,590.6 L428.60,591.3 L427.90,585.0 L427.20,585.7 L426.50,584.4 L425.80,588.1 L425.10,588.4 L424.40,584.0 L423.70,592.4 L423.00,588.4 L422.30,585.2 L421.60,596.5 L420.90,587.4 L420.20,586.1 L419.50,585.9 L418.80,585.7 L418.10,584.5 L417.40,591.4 L416.70,584.8 L416.00,585.0 L415.30,585.0 L414.60,589.6 L413.90,585.9 L413.20,588.3 L412.50,585.5 L411.80,583.3 L411.10,584.5 L410.40,583.8 L409.70,584.4 L409.00,583.4 L408.30,585.7 L407.60,588.6 L406.90,591.4 L406.20,589.9 L405.50,586.2 L404.80,585.0 L404.10,583.8 L403.40,595.9 L402.70,592.2 L402.00,585.7 L401.30,596.2 L400.60,583.4 L399.90,592.7 L399.20,584.0 L398.50,590.0 L397.80,585.8 L397.10,587.0 L396.40,587.0 L395.70,590.8 L395.00,590.5 L394.30,586.2 L393.60,590.8 L392.90,589.1 L392.20,599.2 L391.50,584.8 L390.80,586.4 L390.10,584.3 L389.40,585.0 L388.70,584.9 L388.00,588.6 L387.30,587.5 L386.60,587.5 L385.90,589.6 L385.20,588.3 L384.50,588.2 L383.80,583.5 L383.10,586.8 L382.40,591.7 L381.70,586.2 L381.00,585.1 L380.30,588.2 L379.60,584.2 L378.90,588.1 L378.20,596.1 L377.50,584.2 L376.80,585.8 L376.10,586.2 L375.40,584.9 L374.70,587.3 L374.00,587.2 L373.30,589.8 L372.60,584.3 L371.90,588.0 L371.20,589.7 L370.50,586.0 L369.80,585.8 L369.10,589.1 L368.40,585.6 L367.70,584.0 L367.00,586.7 L366.30,585.7 Z" fill="#8a1a06" stroke="#5a0e04" stroke-width="0.35"/>
<rect x="448.2" y="573.6" width="1.3" height="24" fill="#fbeee8"/>
<line x1="366" y1="572.75" x2="476.7" y2="572.75" stroke="#4a0800" stroke-width="1.5"/>
<line x1="366.0" y1="540.5" x2="366.0" y2="620.2" stroke="#111" stroke-width="1.8"/>
<line x1="363.0" y1="543.31" x2="366.0" y2="543.31" stroke="#111" stroke-width="1.1"/>
<text x="360.4" y="546.2099999999999" font-size="8.3" text-anchor="end" font-weight="normal" fill="#2a2a2a" >10</text>
<line x1="363.0" y1="558.03" x2="366.0" y2="558.03" stroke="#111" stroke-width="1.1"/>
<text x="360.4" y="560.93" font-size="8.3" text-anchor="end" font-weight="normal" fill="#2a2a2a" >5</text>
<line x1="363.0" y1="572.75" x2="366.0" y2="572.75" stroke="#111" stroke-width="1.1"/>
<text x="360.4" y="575.65" font-size="8.3" text-anchor="end" font-weight="normal" fill="#2a2a2a" >0</text>
<line x1="363.0" y1="587.47" x2="366.0" y2="587.47" stroke="#111" stroke-width="1.1"/>
<text x="360.4" y="590.37" font-size="8.3" text-anchor="end" font-weight="normal" fill="#2a2a2a" >-5</text>
<line x1="363.0" y1="602.19" x2="366.0" y2="602.19" stroke="#111" stroke-width="1.1"/>
<text x="360.4" y="605.09" font-size="8.3" text-anchor="end" font-weight="normal" fill="#2a2a2a" >-10</text>
<line x1="363.0" y1="616.91" x2="366.0" y2="616.91" stroke="#111" stroke-width="1.1"/>
<text x="360.4" y="619.81" font-size="8.3" text-anchor="end" font-weight="normal" fill="#2a2a2a" >-15</text>
<text transform="translate(333.40,578.7) rotate(-90)" font-size="8.2" text-anchor="middle" fill="#2a2a2a" textLength="76.0" lengthAdjust="spacingAndGlyphs" stroke="#222" stroke-width="0.3">Average log2 fold change</text>
<text transform="translate(343.90,578.7) rotate(-90)" font-size="8.2" text-anchor="middle" fill="#2a2a2a" textLength="62.9" lengthAdjust="spacingAndGlyphs" stroke="#222" stroke-width="0.3">(post/pre-treatment)</text>
</svg>
</body></html>
